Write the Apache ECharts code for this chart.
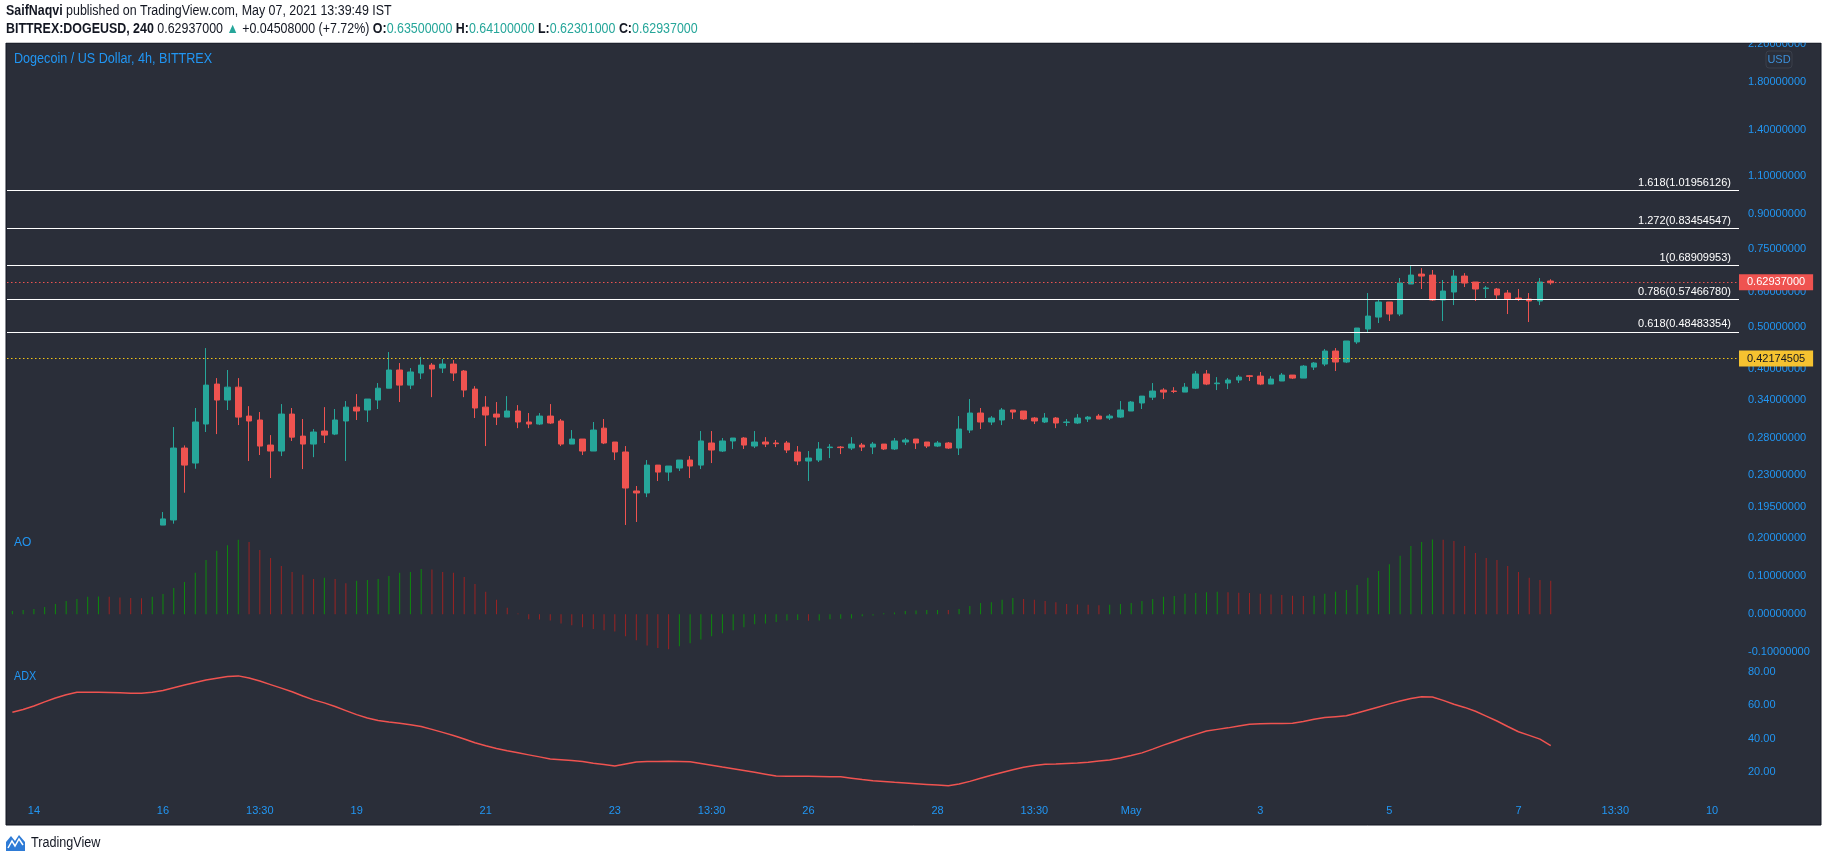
<!DOCTYPE html>
<html><head><meta charset="utf-8">
<script src="https://cdn.jsdelivr.net/npm/echarts@6/dist/echarts.min.js"></script>
<style>html,body{margin:0;padding:0;background:#fff;}#c{width:1828px;height:862px;}</style>
</head><body><div id="c"></div>
<script>
// ---------- DATA ----------
const barCount = 161;                 // 4h bars shown on the time axis (IST)
const firstBarUTCish = [2021, 3, 13, 17, 30];
const candleStart = 14;               // bars before this are below the visible price range
const priceOpen = [.1770,.1818,.2649,.2449,.3004,.3703,.3406,.3644,.3132,.3068,.2691,.2608,.3165,.2820,.2705,.2896,.2850,.3052,.3282,.3233,.3406,.3624,.3986,.3683,.3924,.4090,.4027,.4112,.3965,.3607,.3282,.3165,.3115,.3216,.3036,.3004,.3132,.3052,.2705,.2777,.2608,.2940,.2734,.2595,.2116,.2094,.2423,.2336,.2386,.2488,.2423,.2720,.2608,.2749,.2792,.2677,.2734,.2720,.2720,.2595,.2475,.2488,.2655,.2663,.2649,.2691,.2663,.2705,.2636,.2734,.2777,.2734,.2677,.2720,.2649,.2911,.3182,.3036,.3068,.3233,.3216,.3100,.3036,.3100,.3030,.3020,.3084,.3132,.3100,.3115,.3216,.3354,.3458,.3589,.3570,.3551,.3624,.3904,.3710,.3723,.3782,.3868,.3861,.3703,.3763,.3882,.3821,.4047,.4112,.4402,.4156,.4617,.4940,.5259,.5690,.5343,.6252,.6586,.6552,.5750,.5996,.6518,.6318,.6104,.6091,.5964,.5810,.5780,.5720,.6350];
const priceHigh = [.1895,.2957,.2686,.3267,.4471,.3821,.3986,.3821,.3299,.3199,.2835,.3335,.3267,.3084,.2926,.3282,.3250,.3388,.3514,.3424,.3723,.4379,.4134,.4027,.4266,.4134,.4222,.4200,.3986,.3663,.3477,.3371,.3477,.3317,.3182,.3182,.3335,.3084,.2911,.2777,.3036,.3084,.2734,.2677,.2172,.2488,.2423,.2411,.2488,.2540,.2896,.2896,.2792,.2792,.2805,.2896,.2805,.2763,.2749,.2677,.2608,.2734,.2705,.2677,.2805,.2720,.2734,.2705,.2792,.2792,.2777,.2734,.2749,.2734,.3132,.3424,.3267,.3132,.3267,.3233,.3216,.3115,.3182,.3115,.3084,.3165,.3132,.3165,.3165,.3388,.3388,.3477,.3723,.3624,.3644,.3723,.3965,.3986,.3841,.3821,.3882,.3882,.3945,.3861,.3924,.3882,.4090,.4156,.4448,.4471,.4640,.4966,.5964,.5780,.5690,.6452,.6896,.6793,.6728,.6385,.6728,.6620,.6318,.6187,.6124,.6059,.6091,.5964,.6452,.6410];
const priceLow = [.1770,.1783,.2097,.2377,.2881,.2850,.3233,.2988,.2475,.2554,.2264,.2540,.2749,.2373,.2526,.2720,.2835,.2475,.3068,.3036,.3250,.3624,.3371,.3607,.3802,.3458,.3924,.3763,.3458,.3100,.2677,.2988,.3115,.2940,.2940,.2988,.3004,.2677,.2705,.2554,.2608,.2705,.2488,.1771,.1799,.2049,.2229,.2229,.2349,.2264,.2373,.2449,.2595,.2636,.2636,.2649,.2663,.2663,.2581,.2423,.2229,.2462,.2514,.2567,.2622,.2608,.2567,.2622,.2622,.2691,.2636,.2649,.2663,.2636,.2554,.2866,.2926,.2988,.2988,.3084,.3068,.3004,.3020,.2940,.2972,.3004,.3036,.3084,.3068,.3100,.3216,.3250,.3406,.3424,.3532,.3551,.3607,.3683,.3589,.3607,.3723,.3763,.3683,.3703,.3763,.3802,.3821,.3986,.4068,.3965,.4134,.4570,.4863,.5097,.5151,.5286,.6252,.6091,.5720,.5151,.5600,.6154,.5720,.5810,.5750,.5343,.5720,.5124,.5600,.6230];
const priceClose = [.1828,.2649,.2423,.3036,.3683,.3406,.3644,.3115,.3052,.2677,.2608,.3165,.2805,.2705,.2881,.2835,.3068,.3282,.3216,.3424,.3624,.3986,.3683,.3945,.4090,.4007,.4112,.3924,.3589,.3267,.3149,.3115,.3216,.3036,.3004,.3132,.3020,.2705,.2777,.2608,.2911,.2720,.2595,.2149,.2094,.2423,.2336,.2411,.2488,.2411,.2749,.2622,.2749,.2792,.2691,.2734,.2705,.2710,.2622,.2475,.2514,.2636,.2663,.2655,.2705,.2663,.2705,.2636,.2749,.2763,.2720,.2677,.2720,.2649,.2926,.3182,.3036,.3100,.3233,.3199,.3084,.3052,.3100,.3020,.3036,.3100,.3115,.3084,.3132,.3233,.3371,.3477,.3570,.3551,.3564,.3644,.3904,.3703,.3723,.3782,.3841,.3855,.3703,.3802,.3882,.3821,.4068,.4134,.4402,.4156,.4640,.4966,.5286,.5690,.5343,.6285,.6552,.6518,.5750,.6027,.6518,.6285,.6091,.6124,.5904,.5780,.5780,.5720,.6318,.62937];
const aoValues = [0.0088,0.0114,0.014,0.019,0.027,0.035,0.040,0.046,0.047,0.046,0.044,0.043,0.042,0.046,0.0535,0.069,0.085,0.109,0.143,0.167,0.182,0.196,0.190,0.169,0.148,0.127,0.111,0.104,0.093,0.096,0.093,0.082,0.088,0.090,0.093,0.101,0.109,0.111,0.119,0.118,0.111,0.109,0.098,0.080,0.059,0.038,0.017,0.002,-0.013,-0.014,-0.016,-0.024,-0.029,-0.034,-0.039,-0.042,-0.045,-0.058,-0.068,-0.082,-0.089,-0.092,-0.084,-0.076,-0.066,-0.058,-0.050,-0.042,-0.034,-0.026,-0.024,-0.020,-0.016,-0.015,-0.017,-0.016,-0.013,-0.012,-0.011,-0.005,-0.003,0.003,0.005,0.009,0.010,0.011,0.0115,0.011,0.014,0.022,0.030,0.032,0.038,0.043,0.040,0.038,0.035,0.032,0.027,0.026,0.025,0.024,0.025,0.027,0.030,0.035,0.040,0.046,0.048,0.054,0.056,0.058,0.059,0.058,0.057,0.056,0.054,0.052,0.051,0.049,0.048,0.049,0.054,0.059,0.064,0.077,0.096,0.114,0.132,0.154,0.180,0.190,0.197,0.196,0.193,0.180,0.161,0.148,0.143,0.127,0.111,0.096,0.090,0.088];
const adxValues = [55.8,57.4,59.5,62.0,64.3,66.2,67.7,67.8,67.7,67.6,67.5,67.2,67.1,67.8,68.8,70.4,72.0,73.5,75.0,76.1,77.1,77.5,76.2,74.4,72.3,70.2,68.0,65.5,63.2,61.4,59.2,56.8,54.4,52.4,50.9,50.0,49.3,48.3,47.3,45.6,43.8,42.0,39.9,37.6,35.8,34.2,32.8,31.6,30.4,29.2,28.0,27.5,27.0,26.4,25.4,24.6,23.8,25.0,26.2,26.4,26.5,26.6,26.5,26.3,25.3,24.2,23.1,22.1,21.1,20.0,18.9,17.8,17.6,17.7,17.6,17.5,17.4,17.3,16.5,15.7,15.0,14.5,14.0,13.6,13.2,12.8,12.4,12.0,13.0,14.6,16.4,18.2,19.9,21.5,23.0,24.0,24.8,25.0,25.3,25.6,26.0,26.7,27.3,28.5,30.0,31.6,33.8,36.2,38.4,40.6,42.6,44.6,45.6,46.5,47.6,48.7,49.0,49.1,49.1,49.2,50.3,51.6,52.7,53.2,53.7,55.4,57.2,59.0,60.8,62.5,64.0,65.1,64.9,62.9,60.6,58.7,56.4,53.5,50.6,47.3,44.2,42.0,39.8,35.9];
const priceTicks = [2.2,1.8,1.4,1.1,0.9,0.75,0.6,0.5,0.4,0.34,0.28,0.23,0.195];
const aoTicks = [-0.1,0,0.1,0.2];
const adxTicks = [20,40,60,80];
const xTickLabels = [['04-14 01:30','14'],['04-16 01:30','16'],['04-17 13:30','13:30'],['04-19 01:30','19'],['04-21 01:30','21'],['04-23 01:30','23'],['04-24 13:30','13:30'],['04-26 01:30','26'],['04-28 01:30','28'],['04-29 13:30','13:30'],['05-01 01:30','May'],['05-03 01:30','3'],['05-05 01:30','5'],['05-07 01:30','7'],['05-08 13:30','13:30'],['05-10 01:30','10']];
const fibRatios = ['1.618','1.272','1','0.786','0.618'];
const fibPrices = [1.01956126,0.83454547,0.68909953,0.57466780,0.48483354];
const lastPrice = 0.62937;
const levelPrice = 0.42174505;

// ---------- BUILD ----------
const pad = n => String(n).padStart(2,'0');
const categories = [];
{
  const t0 = Date.UTC(...firstBarUTCish);
  for (let i = 0; i < barCount; i++) {
    const d = new Date(t0 + i * 4 * 3600e3);
    categories.push(`${pad(d.getUTCMonth()+1)}-${pad(d.getUTCDate())} ${pad(d.getUTCHours())}:${pad(d.getUTCMinutes())}`);
  }
}
const tickMap = new Map(xTickLabels);
const L = Math.log;
const candleData = categories.slice(0, candleStart + priceOpen.length).map((c, i) => {
  if (i < candleStart) return '-';
  const k = i - candleStart;
  return [L(priceOpen[k]), L(priceClose[k]), L(priceLow[k]), L(priceHigh[k])];
});
const GREEN = '#0d8a0d', RED = '#9b2323';
const aoData = aoValues.map((v, i) => ({value: v, itemStyle: {color: (i === 0 || v >= aoValues[i-1]) ? GREEN : RED}}));

const FONT = "'Liberation Sans',Arial,sans-serif";
const BLUE = '#2196f3';
const AX = 11;
const G = {left: 7, right: 89};

const fibLines = fibPrices.map((p, i) => ({
  yAxis: L(p),
  lineStyle: {color: '#ffffff', width: 1.2, type: 'solid'},
  label: {show: true, position: 'insideEndTop', distance: [8, 2], formatter: `${fibRatios[i]}(${p.toFixed(8)})`,
          color: '#ffffff', fontSize: AX, fontFamily: FONT}
}));
const lastLine = {
  yAxis: L(lastPrice),
  lineStyle: {color: '#ef5350', width: 1, type: [1.5, 2.5]},
  label: {show: true, position: 'end', distance: 0, formatter: lastPrice.toFixed(8), color: '#ffffff',
          backgroundColor: '#ef5350', padding: [3, 8, 2, 8], fontSize: AX, fontFamily: FONT}
};
const levelLine = {
  yAxis: L(levelPrice),
  lineStyle: {color: '#f5c518', width: 1, type: [1.5, 2.5]},
  label: {show: true, position: 'end', distance: 0, formatter: levelPrice.toFixed(8), color: '#131722',
          backgroundColor: '#f5c230', padding: [3, 8, 2, 8], fontSize: AX, fontFamily: FONT}
};

const hiddenAxisBase = {axisLine: {show: false}, axisTick: {show: false}, splitLine: {show: false}};
const option = {
  animation: false,
  backgroundColor: '#ffffff',
  grid: [
    {left: G.left, right: G.right, top: 43, height: 487},
    {left: G.left, right: G.right, top: 530, height: 125},
    {left: G.left, right: G.right, top: 655, height: 135}
  ],
  xAxis: [0, 1, 2].map(g => Object.assign({
    type: 'category', gridIndex: g, data: categories, boundaryGap: true,
    axisLabel: g === 2 ? {
      show: true, interval: (idx, val) => tickMap.has(val), formatter: val => tickMap.get(val) || '',
      color: BLUE, fontSize: AX, fontFamily: FONT, margin: 15
    } : {show: false}
  }, hiddenAxisBase)),
  yAxis: [
    Object.assign({
      type: 'value', gridIndex: 0, position: 'right', min: L(0.1725), max: L(2.208),
      axisLabel: {show: true, customValues: priceTicks.map(L), formatter: v => Math.exp(v).toFixed(8),
                  color: BLUE, fontSize: AX, fontFamily: FONT, margin: 9}
    }, hiddenAxisBase),
    Object.assign({
      type: 'value', gridIndex: 1, position: 'right', min: -0.1071, max: 0.2218,
      axisLabel: {show: true, customValues: aoTicks, formatter: v => v.toFixed(8),
                  color: BLUE, fontSize: AX, fontFamily: FONT, margin: 9}
    }, hiddenAxisBase),
    Object.assign({
      type: 'value', gridIndex: 2, position: 'right', min: 9.45, max: 89.95,
      axisLabel: {show: true, customValues: adxTicks, formatter: v => v.toFixed(2),
                  color: BLUE, fontSize: AX, fontFamily: FONT, margin: 9}
    }, hiddenAxisBase)
  ],
  series: [
    {
      type: 'candlestick', xAxisIndex: 0, yAxisIndex: 0, data: candleData, barWidth: 6,
      itemStyle: {color: '#26a69a', color0: '#ef5350', borderColor: '#26a69a', borderColor0: '#ef5350', borderWidth: 1},
      markLine: {silent: true, symbol: ['none', 'none'], animation: false,
                 data: [...fibLines, lastLine, levelLine]}
    },
    {type: 'bar', xAxisIndex: 1, yAxisIndex: 1, data: aoData, barWidth: 1, silent: true},
    {type: 'line', xAxisIndex: 2, yAxisIndex: 2, data: adxValues, symbol: 'none', silent: true,
     lineStyle: {color: '#ef5350', width: 1.5}}
  ],
  graphic: {elements: [
    {type: 'rect', z: -10, shape: {x: 6, y: 43, width: 1815, height: 782},
     style: {fill: '#2a2e39', stroke: '#131722', lineWidth: 1}},
    {type: 'rect', z: 100, shape: {x: 0, y: 0, width: 1828, height: 42.5}, style: {fill: '#ffffff'}},
    {type: 'text', z: 101, x: 6, y: 11, scaleX: 0.888, style: {
      text: '{b|SaifNaqvi} published on TradingView.com, May 07, 2021 13:39:49 IST',
      fontSize: 14, fontFamily: FONT, fill: '#131722', verticalAlign: 'middle',
      rich: {b: {fontWeight: 'bold', fontSize: 14, fontFamily: FONT, fill: '#131722'}}}},
    {type: 'text', z: 101, x: 6, y: 29, scaleX: 0.888, style: {
      text: '{b|BITTREX:DOGEUSD, 240} 0.62937000 {t|▲} +0.04508000 (+7.72%) {b|O:}{t|0.63500000} {b|H:}{t|0.64100000} {b|L:}{t|0.62301000} {b|C:}{t|0.62937000}',
      fontSize: 14, fontFamily: FONT, fill: '#131722', verticalAlign: 'middle',
      rich: {b: {fontWeight: 'bold', fontSize: 14, fontFamily: FONT, fill: '#131722'},
             t: {fontSize: 14, fontFamily: FONT, fill: '#26a69a'}}}},
    {type: 'text', z: 5, x: 14, y: 59, scaleX: 0.9, style: {text: 'Dogecoin / US Dollar, 4h, BITTREX', fontSize: 14,
      fontFamily: FONT, fill: BLUE, verticalAlign: 'middle'}},
    {type: 'text', z: 5, x: 14, y: 543, style: {text: 'AO', fontSize: 12, fontFamily: FONT, fill: BLUE, verticalAlign: 'middle'}},
    {type: 'text', z: 5, x: 14, y: 677, scaleX: 0.9, style: {text: 'ADX', fontSize: 12, fontFamily: FONT, fill: BLUE, verticalAlign: 'middle'}},
    {type: 'rect', z: 5, shape: {x: 1766, y: 51, width: 26, height: 17, r: 3}, style: {fill: 'none', stroke: '#3a3f4b', lineWidth: 1}},
    {type: 'text', z: 6, x: 1779, y: 59.5, style: {text: 'USD', fontSize: 11, fontFamily: FONT, fill: '#3d8fd8', align: 'center', verticalAlign: 'middle'}},
    {type: 'polygon', z: 5, shape: {points: [[6,851],[6,842],[11,836],[15,841],[19,835],[25,842],[25,851]]}, style: {fill: '#2e7bd6'}},
    {type: 'polyline', z: 6, shape: {points: [[8,848],[12,841],[15,846],[19,839],[23,845]]}, style: {stroke: '#ffffff', lineWidth: 1.5, fill: 'none'}},
    {type: 'text', z: 5, x: 31, y: 843, scaleX: 0.9, style: {text: 'TradingView', fontSize: 14, fontFamily: FONT, fill: '#131722', verticalAlign: 'middle'}}
  ]}
};
const chart = echarts.init(document.getElementById('c'), null, {renderer: 'canvas', width: 1828, height: 862});
chart.setOption(option);
</script>
</body></html>
